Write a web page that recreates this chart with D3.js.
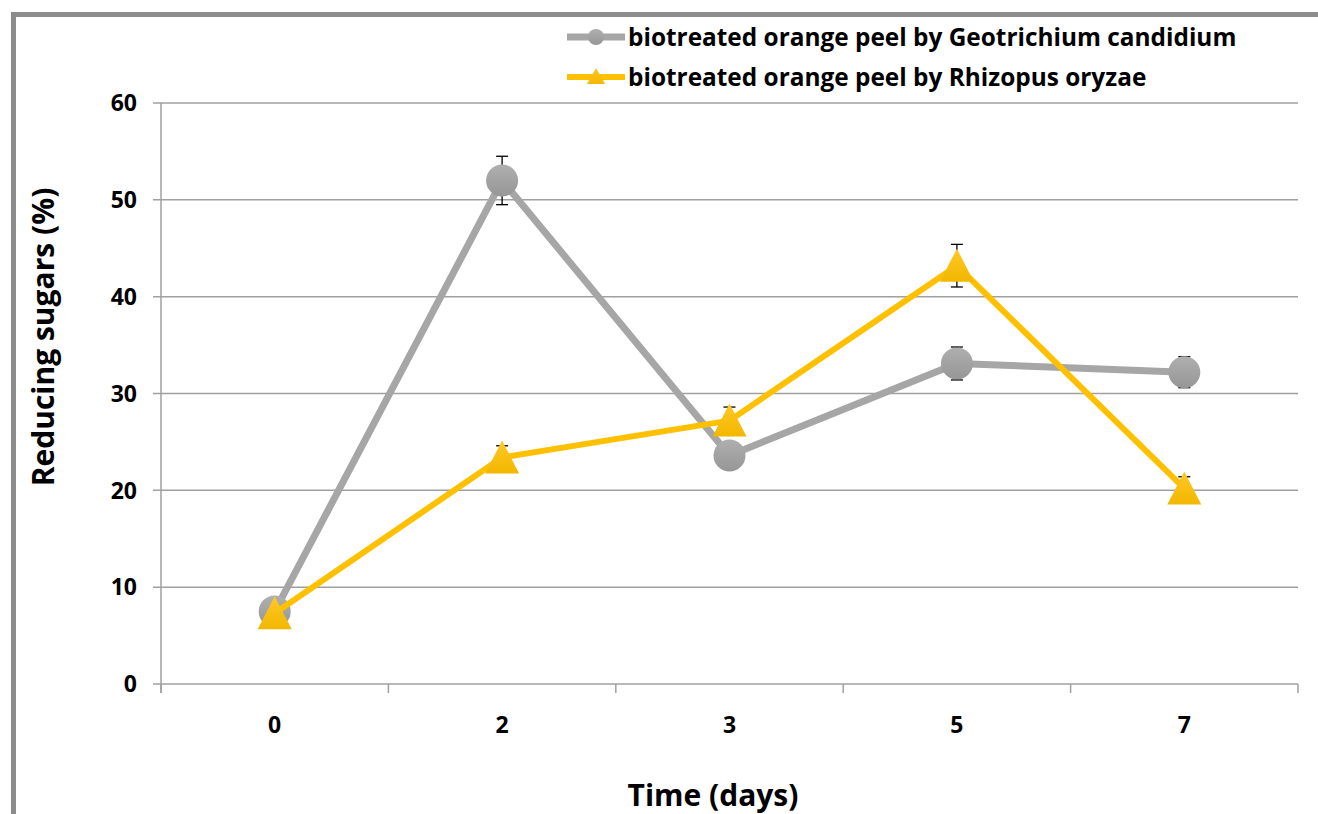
<!DOCTYPE html>
<html>
<head>
<meta charset="utf-8">
<script src="https://cdn.jsdelivr.net/npm/d3@7"></script>
<style>
  body { margin: 0; background: #fff; }
  text { font-family: "Open Sans", "DejaVu Sans", sans-serif; font-weight: bold; fill: #000; }
</style>
</head>
<body>
<div id="chart"></div>
<script>
// données
const jours = ["0", "2", "3", "5", "7"];
const geotrichium = [7.5, 52.0, 23.6, 33.1, 32.2];
const geotrichiumErr = [0, 2.5, 0, 1.7, 1.6];
const rhizopus = [7.3, 23.4, 27.2, 43.2, 20.2];
const rhizopusErr = [0, 1.2, 1.4, 2.2, 1.2];
const yTicks = [0, 10, 20, 30, 40, 50, 60];

const series = [
  { nom: "biotreated orange peel by Geotrichium candidium", values: geotrichium, err: geotrichiumErr, color: "#a6a6a6", marker: "circle", width: 7 },
  { nom: "biotreated orange peel by Rhizopus oryzae", values: rhizopus, err: rhizopusErr, color: "#ffc000", marker: "triangle", width: 6 }
];

const W = 1318, H = 814;
const plotLeft = 161, plotRight = 1298, plotTop = 103, plotBottom = 684;

const svg = d3.select("#chart").append("svg")
  .attr("width", W).attr("height", H);

const defs = svg.append("defs");
const g1 = defs.append("linearGradient").attr("id", "gradGris").attr("x1", 0).attr("y1", 0).attr("x2", 0).attr("y2", 1);
g1.append("stop").attr("offset", "0%").attr("stop-color", "#afafaf");
g1.append("stop").attr("offset", "100%").attr("stop-color", "#969696");
const g2 = defs.append("linearGradient").attr("id", "gradJaune").attr("x1", 0).attr("y1", 0).attr("x2", 0).attr("y2", 1);
g2.append("stop").attr("offset", "0%").attr("stop-color", "#ffc826");
g2.append("stop").attr("offset", "100%").attr("stop-color", "#f2b700");
const fills = { circle: "url(#gradGris)", triangle: "url(#gradJaune)" };

// cadre
svg.append("path")
  .attr("d", `M13.5,${H} L13.5,14.5 L${W},14.5`)
  .attr("fill", "none").attr("stroke", "#8c8c8c").attr("stroke-width", 5);

const x = d3.scaleBand().domain(jours).range([plotLeft, plotRight]);
const y = d3.scaleLinear().domain([0, 60]).range([plotBottom, plotTop]);

// grille
svg.append("g").selectAll("line").data(yTicks).enter().append("line")
  .attr("x1", plotLeft - 8).attr("x2", plotRight)
  .attr("y1", d => y(d)).attr("y2", d => y(d))
  .attr("stroke", "#a0a0a0").attr("stroke-width", 1.5);

// axe Y
svg.append("line").attr("x1", plotLeft).attr("x2", plotLeft).attr("y1", plotTop).attr("y2", plotBottom + 9)
  .attr("stroke", "#a0a0a0").attr("stroke-width", 1.5);
svg.append("g").selectAll("text").data(yTicks).enter().append("text")
  .attr("x", 137).attr("y", d => y(d)).attr("dy", "0.36em")
  .attr("text-anchor", "end").style("font-size", "23px")
  .text(d => d);

// axe X : ticks entre les catégories
const xBounds = jours.map(d => x(d)).concat([plotRight]);
svg.append("g").selectAll("line").data(xBounds).enter().append("line")
  .attr("x1", d => d).attr("x2", d => d).attr("y1", plotBottom).attr("y2", plotBottom + 9)
  .attr("stroke", "#a0a0a0").attr("stroke-width", 1.5);
svg.append("g").selectAll("text").data(jours).enter().append("text")
  .attr("x", d => x(d) + x.bandwidth() / 2).attr("y", 733)
  .attr("text-anchor", "middle").style("font-size", "23px")
  .text(d => d);

// titres
svg.append("text").attr("x", 713).attr("y", 806).attr("text-anchor", "middle")
  .style("font-size", "30px").text("Time (days)");
svg.append("text").attr("transform", "translate(54,337) rotate(-90)").attr("text-anchor", "middle")
  .style("font-size", "30px").text("Reducing sugars (%)");

const cx = i => x(jours[i]) + x.bandwidth() / 2;
const line = d3.line().x((d, i) => cx(i)).y(d => y(d));

function drawMarker(sel, type, px, py) {
  if (type === "circle") {
    sel.append("circle").attr("cx", px).attr("cy", py).attr("r", 16)
      .attr("fill", fills.circle);
  } else {
    sel.append("path")
      .attr("d", `M${px},${py - 17} L${px + 17},${py + 16} L${px - 17},${py + 16} Z`)
      .attr("fill", fills.triangle);
  }
}

series.forEach(s => {
  const g = svg.append("g");
  // barres d'erreur
  s.values.forEach((v, i) => {
    if (!s.err[i]) return;
    const px = cx(i), y1 = y(v + s.err[i]), y2 = y(v - s.err[i]);
    g.append("line").attr("x1", px).attr("x2", px).attr("y1", y1).attr("y2", y2)
      .attr("stroke", "#000").attr("stroke-width", 1.3);
    [y1, y2].forEach(yy => g.append("line").attr("x1", px - 6).attr("x2", px + 6)
      .attr("y1", yy).attr("y2", yy).attr("stroke", "#000").attr("stroke-width", 1.3));
  });
  g.append("path").datum(s.values).attr("d", line)
    .attr("fill", "none").attr("stroke", s.color).attr("stroke-width", s.width)
    .attr("stroke-linejoin", "round");
  s.values.forEach((v, i) => drawMarker(g, s.marker, cx(i), y(v)));
});

// légende
const legend = svg.append("g");
series.forEach((s, i) => {
  const ly = 37 + i * 40;
  legend.append("line").attr("x1", 567).attr("x2", 625).attr("y1", ly).attr("y2", ly)
    .attr("stroke", s.color).attr("stroke-width", s.width);
  if (s.marker === "circle") {
    legend.append("circle").attr("cx", 596).attr("cy", ly).attr("r", 8).attr("fill", fills.circle);
  } else {
    legend.append("path").attr("d", `M596,${ly - 9} L605,${ly + 7} L587,${ly + 7} Z`).attr("fill", fills.triangle);
  }
  legend.append("text").attr("x", 628).attr("y", ly).attr("dy", "0.35em")
    .style("font-size", "24.4px").text(s.nom);
});
</script>
</body>
</html>
